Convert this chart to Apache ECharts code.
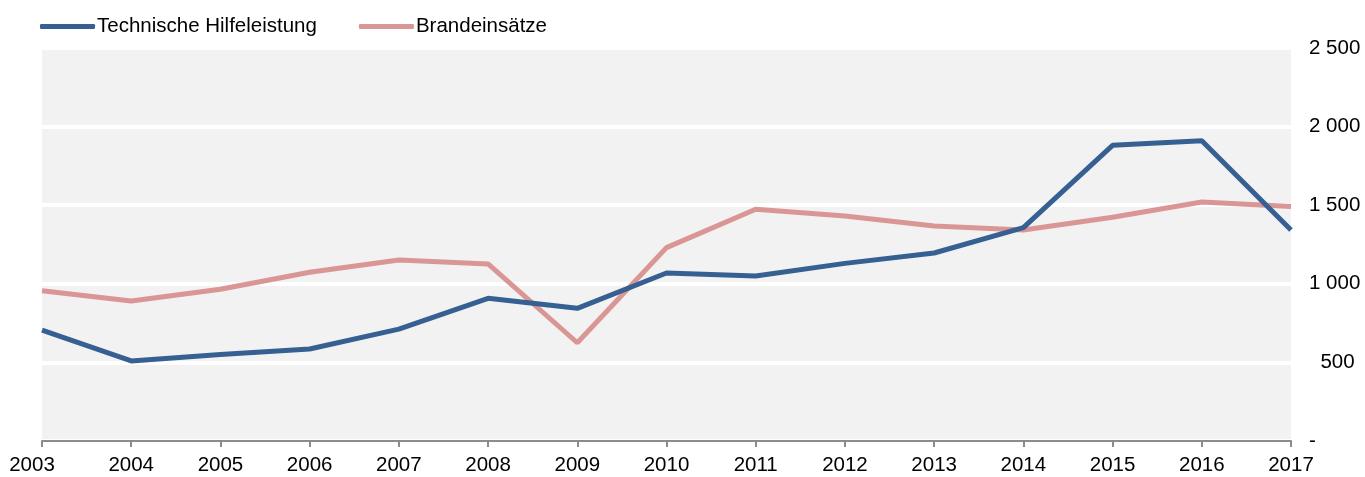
<!DOCTYPE html>
<html><head><meta charset="utf-8">
<script src="https://cdn.jsdelivr.net/npm/echarts@6/dist/echarts.min.js"></script>
<style>html,body{margin:0;padding:0;background:#fff}#c{width:1365px;height:477px}</style>
</head><body><div id="c"></div>
<script>
const years = ['2003','2004','2005','2006','2007','2008','2009','2010','2011','2012','2013','2014','2015','2016','2017'];
const technischeHilfeleistung = [706, 509, 551, 585, 712, 908, 844, 1069, 1050, 1130, 1196, 1357, 1881, 1910, 1342];
const brandeinsaetze = [956, 890, 965, 1073, 1151, 1126, 625, 1230, 1474, 1431, 1368, 1342, 1423, 1520, 1491];
const seriesNames = ['Technische Hilfeleistung', 'Brandeinsätze'];
const yTicks = {0:'-', 500:'  500', 1000:'1 000', 1500:'1 500', 2000:'2 000', 2500:'2 500'};

const font = '"Liberation Sans", Arial, sans-serif';
const fs = 20.5;
const chart = echarts.init(document.getElementById('c'), null, {renderer:'canvas'});
chart.setOption({
  animation: false,
  legend: {
    left: 35, top: 11,
    itemWidth: 55, itemHeight: 5, itemGap: 42,
    icon: 'roundRect',
    textStyle: {fontFamily: font, fontSize: fs, color: '#000', padding: [0,0,0,-3]},
    data: seriesNames
  },
  grid: {left: 42, right: 74, top: 48, bottom: 36, show: true, backgroundColor: '#f2f2f2', borderWidth: 0},
  xAxis: {
    type: 'category', data: years, boundaryGap: false,
    axisLine: {lineStyle: {color: '#8c8c8c', width: 2}},
    axisTick: {show: true, interval: 0, length: 6, lineStyle: {color: '#8c8c8c', width: 2}},
    axisLabel: {
      interval: 0, hideOverlap: false,
      fontFamily: font, fontSize: fs, color: '#000', margin: 14,
      formatter: function(v, i){ return i === 0 ? '{f|' + v + '}' : v; },
      rich: {f: {fontFamily: font, fontSize: fs, color: '#000', padding: [0, 20, 0, 0]}}
    },
    splitLine: {show: false}
  },
  yAxis: {
    type: 'value', position: 'right', min: 0, max: 2500, interval: 500,
    axisLine: {show: false}, axisTick: {show: false},
    axisLabel: {fontFamily: font, fontSize: fs, color: '#000', align: 'left', margin: 18,
      formatter: function(v){ return yTicks[v]; }},
    splitLine: {lineStyle: {color: '#ffffff', width: 4}}
  },
  series: [
    {name: seriesNames[0], type: 'line', data: technischeHilfeleistung, showSymbol: false, symbol: 'none',
     lineStyle: {color: '#376092', width: 5}, itemStyle: {color: '#376092'}, z: 3},
    {name: seriesNames[1], type: 'line', data: brandeinsaetze, showSymbol: false, symbol: 'none',
     lineStyle: {color: '#d99694', width: 5}, itemStyle: {color: '#d99694'}, z: 2}
  ]
});
</script></body></html>
